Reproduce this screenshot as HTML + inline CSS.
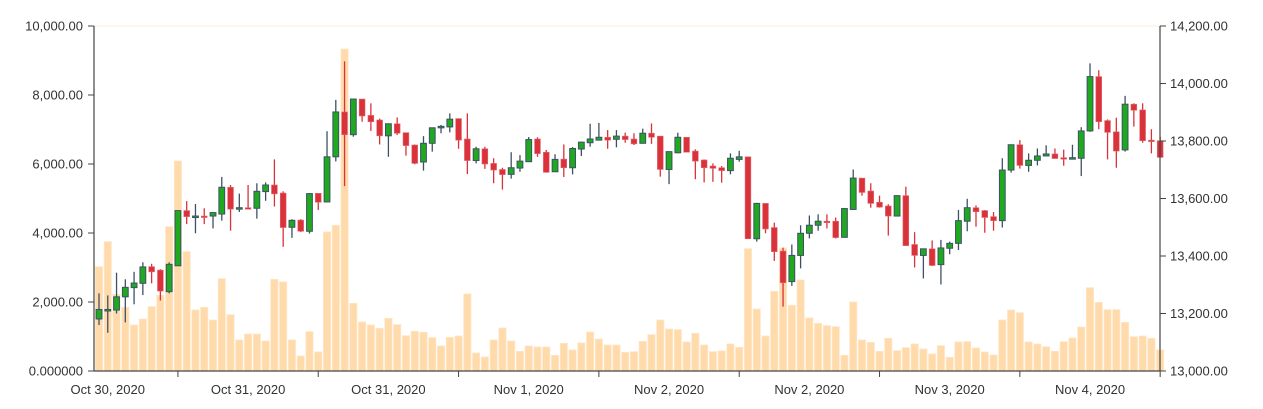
<!DOCTYPE html>
<html><head><meta charset="utf-8"><style>
html,body{margin:0;padding:0;background:#fff;}
svg{display:block;font-family:"Liberation Sans",Arial,sans-serif;}
</style></head><body>
<svg id="chart" width="1263" height="409" viewBox="0 0 1263 409" xmlns="http://www.w3.org/2000/svg">
<line x1="94" y1="26" x2="1160" y2="26" stroke="#fdf3e3" stroke-width="1.5"/>
<g id="vol"></g>
<g id="candles"></g>
<g id="axes"></g>
</svg>
<script>
const opens=[13181,13214,13212,13258,13290,13305,13363,13351,13276,13366,13558,13539,13539,13539,13546,13639,13568,13568,13566,13624,13647,13619,13500,13525,13486,13618,13588,13745,13901,13822,13946,13889,13873,13818,13860,13829,13786,13727,13792,13849,13849,13878,13807,13732,13773,13722,13701,13684,13706,13728,13807,13761,13693,13737,13707,13772,13794,13803,13813,13806,13817,13807,13792,13827,13817,13701,13759,13813,13765,13734,13713,13707,13697,13736,13745,13460,13583,13499,13417,13311,13402,13479,13507,13521,13521,13465,13562,13671,13626,13587,13574,13539,13610,13440,13402,13425,13370,13427,13444,13521,13568,13558,13537,13523,13699,13787,13715,13733,13748,13755,13742,13740,13740,13835,14024,13871,13832,13769,13928,13908,13803,13801];
const closes=[13214,13214,13258,13291,13306,13362,13345,13278,13371,13558,13537,13539,13538,13551,13639,13563,13568,13566,13625,13647,13616,13499,13524,13486,13617,13587,13745,13901,13822,13946,13887,13867,13818,13860,13827,13784,13722,13792,13846,13851,13876,13803,13732,13773,13720,13699,13683,13707,13730,13805,13756,13691,13736,13707,13774,13796,13807,13813,13803,13817,13805,13790,13827,13813,13701,13763,13813,13761,13730,13707,13705,13697,13740,13745,13460,13583,13494,13415,13307,13402,13479,13507,13521,13518,13464,13565,13671,13621,13583,13570,13539,13610,13436,13402,13425,13367,13428,13444,13523,13568,13554,13534,13523,13699,13787,13715,13733,13748,13755,13739,13739,13742,13835,14024,13867,13830,13765,13928,13907,13801,13802,13743];
const highs=[13270,13263,13342,13319,13345,13378,13373,13354,13378,13558,13591,13581,13566,13551,13675,13647,13617,13647,13653,13656,13736,13625,13528,13528,13619,13619,13834,13943,14077,13946,13946,13931,13878,13860,13882,13829,13788,13817,13846,13856,13896,13878,13896,13780,13780,13740,13707,13761,13751,13814,13813,13769,13754,13788,13779,13798,13860,13863,13838,13838,13829,13827,13843,13861,13817,13763,13829,13813,13771,13736,13722,13713,13757,13766,13745,13585,13583,13516,13429,13440,13507,13541,13545,13545,13534,13565,13701,13671,13653,13610,13580,13610,13641,13483,13425,13454,13456,13450,13560,13599,13576,13560,13553,13740,13787,13803,13757,13774,13785,13774,13770,13787,13848,14070,14046,13875,13881,13957,13931,13931,13841,13815];
const lows=[13160,13133,13200,13169,13232,13264,13305,13245,13270,13366,13511,13479,13511,13496,13523,13488,13553,13563,13530,13592,13572,13432,13463,13483,13478,13560,13588,13729,13643,13815,13867,13835,13788,13745,13821,13749,13719,13697,13763,13827,13830,13773,13685,13722,13703,13653,13631,13669,13693,13728,13745,13690,13693,13675,13684,13748,13780,13803,13773,13778,13794,13786,13792,13790,13676,13650,13757,13761,13667,13656,13658,13655,13684,13728,13460,13450,13479,13383,13224,13296,13357,13461,13488,13496,13461,13464,13560,13610,13568,13568,13471,13539,13436,13360,13322,13365,13301,13406,13421,13486,13502,13481,13488,13499,13690,13704,13693,13715,13748,13739,13714,13740,13678,13832,13841,13736,13707,13763,13850,13794,13757,13743];
const volumes=[3024,3749,2222,1845,1333,1507,1865,2193,4184,6088,3459,1768,1845,1478,2677,1633,899,1072,1072,870,2657,2580,899,435,1140,551,4029,4223,9334,1961,1420,1333,1237,1527,1343,1024,1150,1121,966,725,976,1014,2232,522,406,899,1246,870,570,725,696,696,454,802,609,812,1130,927,754,754,541,560,860,1053,1478,1217,1198,841,1092,754,560,580,783,686,3546,1797,1014,2309,3565,1903,2638,1536,1382,1314,1285,454,2000,899,831,570,947,589,676,783,638,493,734,396,841,850,667,551,464,1478,1768,1691,841,783,705,570,850,956,1275,2416,1990,1778,1778,1411,995,1014,947,609];
const xTickIdx=[9,25,41,57,73,89,105,121];
const xTickLabels=["Oct 30, 2020","Oct 31, 2020","Oct 31, 2020","Nov 1, 2020","Nov 2, 2020","Nov 2, 2020","Nov 3, 2020","Nov 4, 2020"];
const volTicks=[0,2000,4000,6000,8000,10000];
const volTickLabels=["0.000000","2,000.00","4,000.00","6,000.00","8,000.00","10,000.00"];
const priceTicks=[13000,13200,13400,13600,13800,14000,14200];
const priceTickLabels=["13,000.00","13,200.00","13,400.00","13,600.00","13,800.00","14,000.00","14,200.00"];

const NS="http://www.w3.org/2000/svg";
const X0=99, STEP=8.77, TOP=26, BOT=371;
function x(i){return X0+STEP*i;}
function yP(p){return BOT-(p-13000)/(14200-13000)*(BOT-TOP);}
function yV(v){return BOT-v/10000*(BOT-TOP);}
function mk(tag,attrs,parent){const e=document.createElementNS(NS,tag);for(const k in attrs)e.setAttribute(k,attrs[k]);parent.appendChild(e);return e;}

const gv=document.getElementById('vol');
volumes.forEach((v,i)=>{
  const r=mk('rect',{x:x(i)-3.6,y:yV(v),width:7.2,height:BOT-yV(v),fill:'#ffdaaa',stroke:'#ffe6c8','stroke-width':0.8},gv);
  
  
});
const gc=document.getElementById('candles');
opens.forEach((o,i)=>{
  const c=closes[i], up=c>=o;
  const col=up?'#1fa91f':'#d9323a', line=up?'#3d5166':'#d9323a';
  const g=mk('g',{},gc);
  
  
  mk('line',{x1:x(i),x2:x(i),y1:yP(highs[i]),y2:yP(lows[i]),stroke:line,'stroke-width':1.3},g);
  const t=Math.min(yP(o),yP(c)), h=Math.max(1.5,Math.abs(yP(o)-yP(c)));
  mk('rect',{x:x(i)-2.9,y:t,width:5.8,height:h,fill:col,stroke:up?'#3d5166':'#e06a70','stroke-width':up?1:0.6},g);
});
const ga=document.getElementById('axes');
const ax='#444';
let e;
e=mk('line',{x1:94,y1:TOP,x2:94,y2:BOT,stroke:ax,'stroke-width':1.2},ga);


e=mk('line',{x1:1160,y1:TOP,x2:1160,y2:BOT,stroke:ax,'stroke-width':1.2},ga);


e=mk('line',{x1:94,y1:BOT,x2:1160,y2:BOT,stroke:ax,'stroke-width':1.2},ga);


volTicks.forEach((v,k)=>{
  mk('line',{x1:88,x2:94,y1:yV(v),y2:yV(v),stroke:ax},ga);
  const t=mk('text',{x:83,y:yV(v)+4.5,'text-anchor':'end','font-size':13,fill:'#333'},ga);
  t.textContent=volTickLabels[k];
  
  
});
priceTicks.forEach((p,k)=>{
  mk('line',{x1:1160,x2:1166,y1:yP(p),y2:yP(p),stroke:ax},ga);
  const t=mk('text',{x:1170,y:yP(p)+4.5,'text-anchor':'start','font-size':13,fill:'#333'},ga);
  t.textContent=priceTickLabels[k];
  
  
});
xTickIdx.forEach((idx,k)=>{
  mk('line',{x1:x(idx),x2:x(idx),y1:BOT,y2:BOT+6,stroke:ax},ga);
  const t=mk('text',{x:x(idx-8),y:394,'text-anchor':'middle','font-size':13,fill:'#333'},ga);
  t.textContent=xTickLabels[k];
  
  
});
</script>
</body></html>
